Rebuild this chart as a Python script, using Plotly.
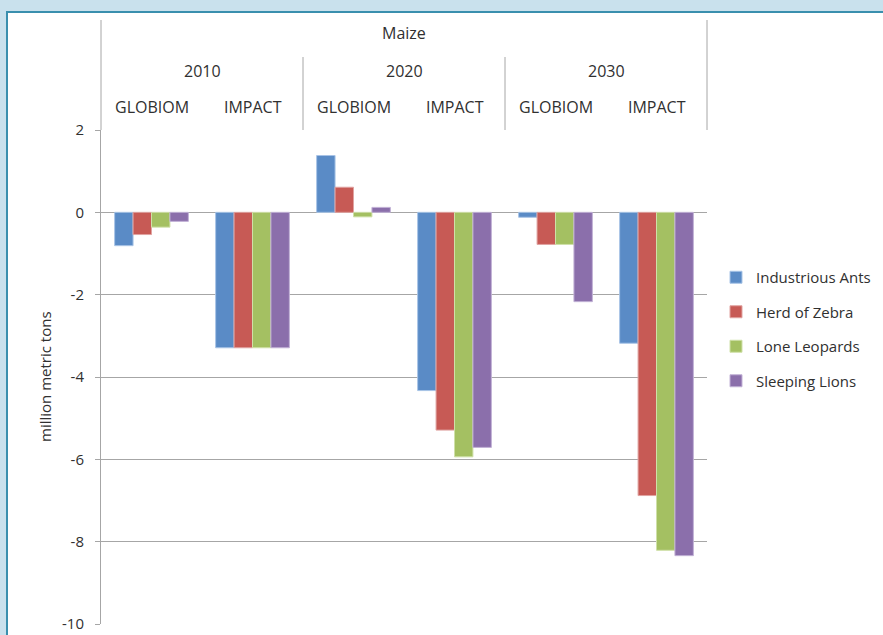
import plotly.graph_objects as go

# ---- data ----
years = ["2010", "2020", "2030"]
models = ["GLOBIOM", "IMPACT"]
categories = [f"{y} {m}" for y in years for m in models]
series_names = ["Industrious Ants", "Herd of Zebra", "Lone Leopards", "Sleeping Lions"]
industrious_ants = [-0.81, -3.29, 1.38, -4.33, -0.12, -3.18]
herd_of_zebra = [-0.54, -3.29, 0.61, -5.29, -0.78, -6.88]
lone_leopards = [-0.36, -3.29, -0.11, -5.94, -0.78, -8.21]
sleeping_lions = [-0.22, -3.29, 0.12, -5.71, -2.17, -8.34]
y_ticks = [-10, -8, -6, -4, -2, 0, 2]
crop_label = "Maize"
y_title = "million metric tons"

series_values = [industrious_ants, herd_of_zebra, lone_leopards, sleeping_lions]
colors = ["#5a8bc6", "#c75a55", "#a4c062", "#8b6fab"]
edge_colors = ["#a8c4e6", "#e0a3a1", "#cfe0a8", "#c2b2d6"]

xpos = list(range(len(categories)))

fig = go.Figure()
for i, (name, vals) in enumerate(zip(series_names, series_values)):
    fig.add_trace(go.Bar(
        x=xpos, y=vals, name=name,
        marker=dict(color=colors[i], line=dict(color=edge_colors[i], width=1)),
        legendgroup=name,
    ))

GRID = "#a6a6a6"
TXT = "#303030"
FONT = "Open Sans"

L, R, T, B = 101, 176, 130, 11
W, H = 883, 635
pw, ph = W - L - R, H - T - B

def py(pix):  # pixel y -> paper y
    return (H - B - pix) / ph

def px(pix):  # pixel x -> paper x
    return (pix - L) / pw

shapes = []
# white chart panel with teal border
shapes.append(dict(type="rect", xref="paper", yref="paper", layer="below",
                   x0=px(7), x1=px(900), y0=py(660), y1=py(12),
                   fillcolor="white", line=dict(color="#3a8fae", width=2)))
# header frame lines
shapes.append(dict(type="line", xref="paper", yref="paper", x0=0, x1=0,
                   y0=1, y1=py(20), line=dict(color=GRID, width=1)))
shapes.append(dict(type="line", xref="paper", yref="paper", x0=1, x1=1,
                   y0=1, y1=py(20), line=dict(color=GRID, width=1)))
for xd in [1.5, 3.5]:
    shapes.append(dict(type="line", xref="x", yref="paper", x0=xd, x1=xd,
                       y0=1, y1=py(57), line=dict(color=GRID, width=1)))

annotations = []
annotations.append(dict(text=crop_label, xref="paper", yref="paper", x=0.5, y=py(33),
                        yanchor="middle", showarrow=False,
                        font=dict(size=16, color=TXT, family=FONT)))
for j, yr in enumerate(years):
    annotations.append(dict(text=yr, xref="x", yref="paper", x=2 * j + 0.5, y=py(71),
                            yanchor="middle", showarrow=False,
                            font=dict(size=16, color=TXT, family=FONT)))
for k, cat in enumerate(categories):
    annotations.append(dict(text=cat.split(" ")[1], xref="x", yref="paper", x=k, y=py(107),
                            yanchor="middle", showarrow=False,
                            font=dict(size=16, color=TXT, family=FONT)))
annotations.append(dict(text=y_title, xref="paper", yref="paper", x=px(45), y=0.5,
                        xanchor="center", yanchor="middle", textangle=-90,
                        showarrow=False, font=dict(size=15, color=TXT, family=FONT)))

fig.update_layout(
    width=W, height=H,
    margin=dict(l=L, r=R, t=T, b=B, autoexpand=False),
    paper_bgcolor="#c9e1ed",
    plot_bgcolor="white",
    barmode="group", bargap=0.27, bargroupgap=0,
    font=dict(family=FONT, size=13, color=TXT),
    showlegend=True,
    legend=dict(xref="container", yref="container", x=716 / W, y=1 - 261 / H,
                xanchor="left", yanchor="top",
                font=dict(size=15, color=TXT, family=FONT),
                tracegroupgap=12, bgcolor="rgba(0,0,0,0)", itemwidth=30),
    xaxis=dict(range=[-0.5, 5.5], showticklabels=False, showgrid=False,
               zeroline=False, showline=False, ticks=""),
    yaxis=dict(range=[-10, 2], tickvals=y_ticks, ticktext=[str(v) for v in y_ticks],
               showgrid=True, gridcolor=GRID,
               gridwidth=1, zeroline=True, zerolinecolor=GRID, zerolinewidth=1,
               showline=True, linecolor=GRID, linewidth=1, ticks="outside",
               ticklen=5, tickcolor=GRID, ticklabelstandoff=8,
               tickfont=dict(size=15, color=TXT, family=FONT)),
    shapes=shapes, annotations=annotations,
)

fig.write_html("out.html")
